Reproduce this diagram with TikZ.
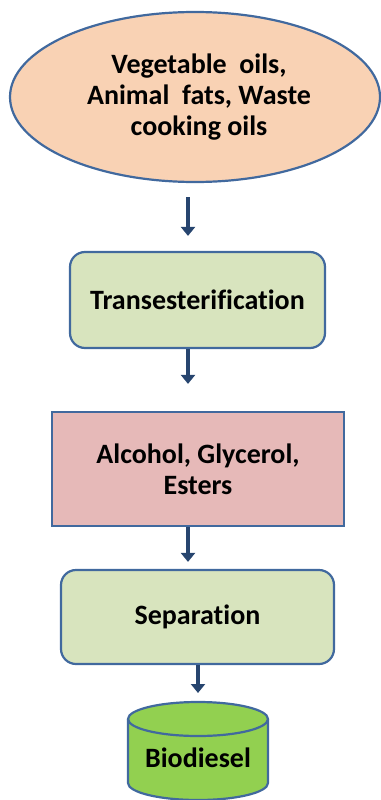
\documentclass[tikz,border=0pt]{standalone}
\usepackage{fontspec}
\setmainfont{Carlito}[Ligatures={NoCommon}]
\usetikzlibrary{arrows.meta,shapes.geometric}
\definecolor{bordc}{HTML}{41699E}
\definecolor{peach}{HTML}{F9D2B4}
\definecolor{palegreen}{HTML}{D8E4BE}
\definecolor{pinkbox}{HTML}{E6B9B8}
\definecolor{cylgreen}{HTML}{92D050}
\definecolor{arrc}{HTML}{27456F}
\tikzset{
  lbl/.style={font=\fontsize{28}{31}\selectfont\bfseries, text=black, align=center},
  startbox/.style={ellipse, draw=bordc, line width=2.2pt, fill=peach, inner sep=0pt},
  procbox/.style={rectangle, rounded corners=15pt, draw=bordc, line width=2.2pt, fill=palegreen, inner sep=0pt},
  databox/.style={rectangle, draw=bordc, line width=2.2pt, fill=pinkbox, inner sep=0pt},
  flowarr/.style={draw=arrc, line width=4.5pt, -{Triangle[width=14pt,length=9pt]}},
}
\begin{document}
\begin{tikzpicture}[x=1pt,y=1pt]
\useasboundingbox (0,0) rectangle (380,-800);
% start ellipse
\node[startbox, lbl, minimum width=370pt, minimum height=170pt] (src) at (195,-97)
  {\hspace*{8pt}Vegetable~ oils,\\\hspace*{8pt}Animal~ fats, Waste\\\hspace*{8pt}cooking oils};
% transesterification
\node[procbox, lbl, minimum width=255pt, minimum height=96pt] (trans) at (197.5,-300) {Transesterification};
% products
\node[databox, lbl, minimum width=292pt, minimum height=114pt] (prod) at (198,-469) {Alcohol, Glycerol,\\Esters};
% separation
\node[procbox, lbl, minimum width=273pt, minimum height=94pt] (sep) at (197.5,-617) {Separation};
% cylinder
\fill[cylgreen] (128,-719) -- (128,-783) arc[start angle=180,end angle=360,x radius=70,y radius=17] -- (268,-719) -- cycle;
\draw[bordc, line width=2.2pt] (128,-719) -- (128,-783) arc[start angle=180,end angle=360,x radius=70,y radius=17] -- (268,-719);
\draw[bordc, line width=2.2pt, fill=cylgreen] (198,-719) ellipse[x radius=70, y radius=17];
\node[lbl, inner sep=0pt] (bio) at (198,-758) {Biodiesel};
\coordinate (biotop) at (198,-702);
% arrows
\draw[flowarr, shorten <=14pt, shorten >=15pt] ([xshift=-7pt]src.south) -- ([xshift=-9.5pt]trans.north);
\draw[flowarr, shorten >=27pt] ([xshift=-9.5pt]trans.south) -- ([xshift=-10pt]prod.north);
\draw[flowarr, shorten >=7pt] ([xshift=-10pt]prod.south) -- ([xshift=-9.5pt]sep.north);
\draw[flowarr, shorten >=9pt] ([xshift=0.5pt]sep.south) -- (biotop);
\end{tikzpicture}
\end{document}
